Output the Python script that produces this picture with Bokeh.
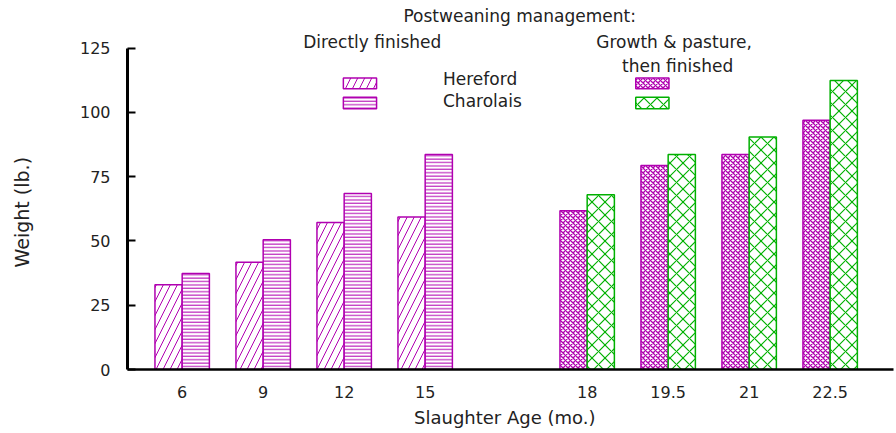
from bokeh.plotting import figure
from bokeh.models import Label, FixedTicker, Range1d
from bokeh.embed import file_html
from bokeh.resources import INLINE

# ---- data ----
ages = ["6", "9", "12", "15", "18", "19.5", "21", "22.5"]
slots = [1, 2, 3, 4, 6, 7, 8, 9]          # category slots; slot 5 left empty between groups
hereford = [33.0, 41.7, 57.2, 59.3, 61.7, 79.3, 83.6, 96.9]
charolais = [37.3, 50.5, 68.4, 83.6, 68.0, 83.6, 90.4, 112.4]
n_direct = 4                               # first four ages: directly finished
y_ticks = [0, 25, 50, 75, 100, 125]

PURPLE = "#b000b0"
GREEN = "#00b000"
FONT = "DejaVu Sans"
TXT = "#222222"
BW = 0.336

p = figure(width=896, height=433, output_backend="svg", toolbar_location=None,
           x_range=Range1d(0.325, 9.782), y_range=Range1d(0, 143.5),
           min_border=0, min_border_left=127, min_border_right=3,
           min_border_top=0, min_border_bottom=64)
p.outline_line_color = None
p.xgrid.visible = False
p.ygrid.visible = False
p.background_fill_color = "white"
p.border_fill_color = "white"

d_x = slots[:n_direct]
g_x = slots[n_direct:]

styles_h_direct = dict(fill_color="white", line_color=PURPLE, line_width=1.5,
                       hatch_pattern="/", hatch_color=PURPLE, hatch_scale=14, hatch_weight=1)
styles_c_direct = dict(fill_color="white", line_color=PURPLE, line_width=1.5,
                       hatch_pattern="-", hatch_color=PURPLE, hatch_scale=3.4, hatch_weight=1)
styles_h_growth = dict(fill_color="white", line_color=PURPLE, line_width=1.5,
                       hatch_pattern="x", hatch_color=PURPLE, hatch_scale=5, hatch_weight=1.3)
styles_c_growth = dict(fill_color="white", line_color=GREEN, line_width=1.5,
                       hatch_pattern="x", hatch_color=GREEN, hatch_scale=13, hatch_weight=1.2)

p.vbar(x=[s - BW / 2 for s in d_x], top=hereford[:n_direct], bottom=0, width=BW, **styles_h_direct)
p.vbar(x=[s + BW / 2 for s in d_x], top=charolais[:n_direct], bottom=0, width=BW, **styles_c_direct)
p.vbar(x=[s - BW / 2 for s in g_x], top=hereford[n_direct:], bottom=0, width=BW, **styles_h_growth)
p.vbar(x=[s + BW / 2 for s in g_x], top=charolais[n_direct:], bottom=0, width=BW, **styles_c_growth)

# legend swatches
p.quad(left=[2.99], right=[3.40], top=[113.4], bottom=[109.2], **styles_h_direct)
p.quad(left=[2.99], right=[3.40], top=[105.9], bottom=[101.4], **styles_c_direct)
p.quad(left=[6.60], right=[7.01], top=[113.4], bottom=[109.2], **styles_h_growth)
p.quad(left=[6.60], right=[7.01], top=[105.9], bottom=[101.4], **styles_c_growth)


def lab(x, y, t, size="17px", align="center"):
    p.add_layout(Label(x=x, y=y, text=t, text_font=FONT, text_font_size=size,
                       text_color=TXT, text_align=align, text_baseline="middle"))


lab(5.20, 137.4, "Postweaning  management:")
lab(3.38, 127.2, "Directly  finished")
lab(7.14, 127.2, "Growth  &  pasture,")
lab(7.15, 118.2, "then  finished")
lab(4.22, 112.9, "Hereford", align="left")
lab(4.22, 104.6, "Charolais", align="left")

# axes
xa = p.xaxis[0]
xa.ticker = FixedTicker(ticks=slots)
xa.major_label_overrides = {s: a for s, a in zip(slots, ages)}
xa.axis_line_width = 2.5
xa.axis_line_color = "black"
xa.major_tick_line_color = None
xa.minor_tick_line_color = None
xa.major_tick_in = 0
xa.major_tick_out = 0
xa.major_label_standoff = 16
xa.major_label_text_font = FONT
xa.major_label_text_font_size = "16px"
xa.major_label_text_color = TXT
xa.axis_label = "Slaughter  Age  (mo.)"
xa.axis_label_text_font = FONT
xa.axis_label_text_font_size = "18px"
xa.axis_label_text_font_style = "normal"
xa.axis_label_text_color = TXT
xa.axis_label_standoff = 6

ya = p.yaxis[0]
ya.ticker = FixedTicker(ticks=y_ticks)
ya.bounds = (0, 125)
ya.axis_line_width = 3
ya.axis_line_color = "black"
ya.major_tick_in = 8
ya.major_tick_out = 0
ya.major_tick_line_width = 2
ya.minor_tick_line_color = None
ya.major_label_standoff = 17
ya.major_label_text_font = FONT
ya.major_label_text_font_size = "16px"
ya.major_label_text_color = TXT
# trailing no-break spaces move the label's visible centre down to the 0-125 span
ya.axis_label = "Weight (lb.)" + "\u00a0" * 9
ya.axis_label_text_font = FONT
ya.axis_label_text_font_size = "19px"
ya.axis_label_text_font_style = "normal"
ya.axis_label_text_color = TXT
ya.axis_label_standoff = 44

open("out.html", "w").write(file_html(p, INLINE))
